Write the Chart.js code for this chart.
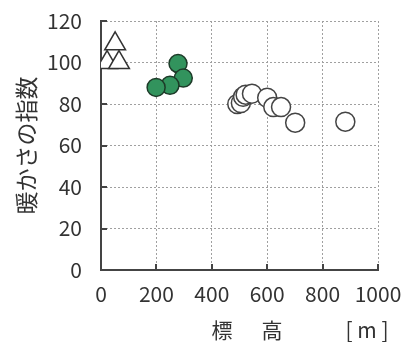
<!DOCTYPE html>
<html>
<head>
<meta charset="utf-8">
<script src="https://cdn.jsdelivr.net/npm/chart.js@4"></script>
<style>
  html, body { margin: 0; padding: 0; background: #fff; }
  #wrap { width: 413px; height: 343px; }
</style>
</head>
<body>
<div id="wrap"><canvas id="myChart" width="413" height="343"></canvas></div>
<script>
// 標高 [m] と 暖かさの指数
const triangleX = [22, 51, 65];
const triangleY = [100, 109, 100];
const greenX = [278, 297, 249, 199];
const greenY = [99.5, 92.5, 89, 88];
const whiteX = [492, 505, 513, 522, 545, 600, 622, 650, 701, 882];
const whiteY = [80, 80.5, 83.5, 84.5, 85, 83, 78.5, 78.5, 71, 71.5];
const xTicks = [0, 200, 400, 600, 800, 1000];
const yTicks = [0, 20, 40, 60, 80, 100, 120];
const xTitle = ['標', '高'];
const xUnit = '[ m ]';
const yTitle = '暖かさの指数';

const FONT = '"Noto Sans CJK JP", "Noto Sans", sans-serif';

function toPoints(xs, ys) {
    return xs.map((x, i) => ({x: x, y: ys[i]}));
}

// x title + unit, and short inner tick marks on both axes
const extrasPlugin = {
    id: 'extras',
    beforeDatasetsDraw(chart) {
        const ctx = chart.ctx;
        const xs = chart.scales.x, ys = chart.scales.y;
        const area = chart.chartArea;
        ctx.save();
        ctx.strokeStyle = '#444';
        ctx.lineWidth = 2;
        ctx.beginPath();
        xTicks.forEach(v => {
            const px = Math.round(xs.getPixelForValue(v));
            ctx.moveTo(px, area.bottom);
            ctx.lineTo(px, area.bottom - 6);
        });
        yTicks.forEach(v => {
            const py = Math.round(ys.getPixelForValue(v));
            ctx.moveTo(area.left, py);
            ctx.lineTo(area.left + 6, py);
        });
        ctx.stroke();
        ctx.restore();
    },
    afterDraw(chart) {
        const ctx = chart.ctx;
        ctx.save();
        ctx.fillStyle = '#333';
        ctx.font = '21px ' + FONT;
        ctx.textAlign = 'center';
        ctx.textBaseline = 'middle';
        ctx.fillText(xTitle[0], 222, 330);
        ctx.fillText(xTitle[1], 272, 330);
        ctx.fillText(xUnit, 367, 330);
        ctx.restore();
    }
};

const ctx = document.getElementById('myChart');
const myChart = new Chart(ctx, {
    type: 'scatter',
    data: {
        datasets: [{
            data: toPoints(triangleX, triangleY),
            pointStyle: 'triangle',
            pointRadius: 12,
            backgroundColor: '#fff',
            borderColor: '#333',
            borderWidth: 1.5
        }, {
            data: toPoints(greenX, greenY),
            pointStyle: 'circle',
            pointRadius: 9,
            backgroundColor: '#32935d',
            borderColor: '#1d3a28',
            borderWidth: 1.5
        }, {
            data: toPoints(whiteX, whiteY),
            pointStyle: 'circle',
            pointRadius: 9.5,
            backgroundColor: '#fff',
            borderColor: '#444',
            borderWidth: 1.5
        }]
    },
    options: {
        responsive: false,
        animation: false,
        layout: { padding: { top: 21, right: 35, left: 0, bottom: 0 } },
        plugins: {
            legend: { display: false },
            tooltip: { enabled: false }
        },
        scales: {
            x: {
                type: 'linear',
                min: 0,
                max: 1000,
                afterBuildTicks: (scale) => { scale.ticks = xTicks.map(v => ({value: v})); },
                afterFit: (scale) => {
                    scale.height = 73;
                    scale.paddingLeft = 0;
                    scale.paddingRight = 0;
                },
                border: { display: true, color: '#444', width: 2, dash: [2, 2] },
                grid: {
                    color: '#a0a0a0',
                    lineWidth: 1,
                    drawTicks: false
                },
                ticks: {
                    padding: 11,
                    color: '#333',
                    font: { family: FONT, size: 21 },
                    maxRotation: 0,
                    autoSkip: false,
                    callback: (v) => String(v)
                }
            },
            y: {
                type: 'linear',
                min: 0,
                max: 120,
                afterBuildTicks: (scale) => { scale.ticks = yTicks.map(v => ({value: v})); },
                afterFit: (scale) => {
                    scale.width = 101;
                    scale.paddingTop = 0;
                    scale.paddingBottom = 0;
                },
                border: { display: true, color: '#444', width: 2, dash: [2, 2] },
                grid: {
                    color: '#a0a0a0',
                    lineWidth: 1,
                    drawTicks: false
                },
                ticks: {
                    padding: 19,
                    color: '#333',
                    font: { family: FONT, size: 21 },
                    autoSkip: false,
                    callback: (v) => String(v)
                },
                title: {
                    display: true,
                    text: yTitle,
                    color: '#333',
                    font: { family: FONT, size: 23 },
                    padding: { top: 12, bottom: 0 }
                }
            }
        }
    },
    plugins: [extrasPlugin]
});
</script>
</body>
</html>
